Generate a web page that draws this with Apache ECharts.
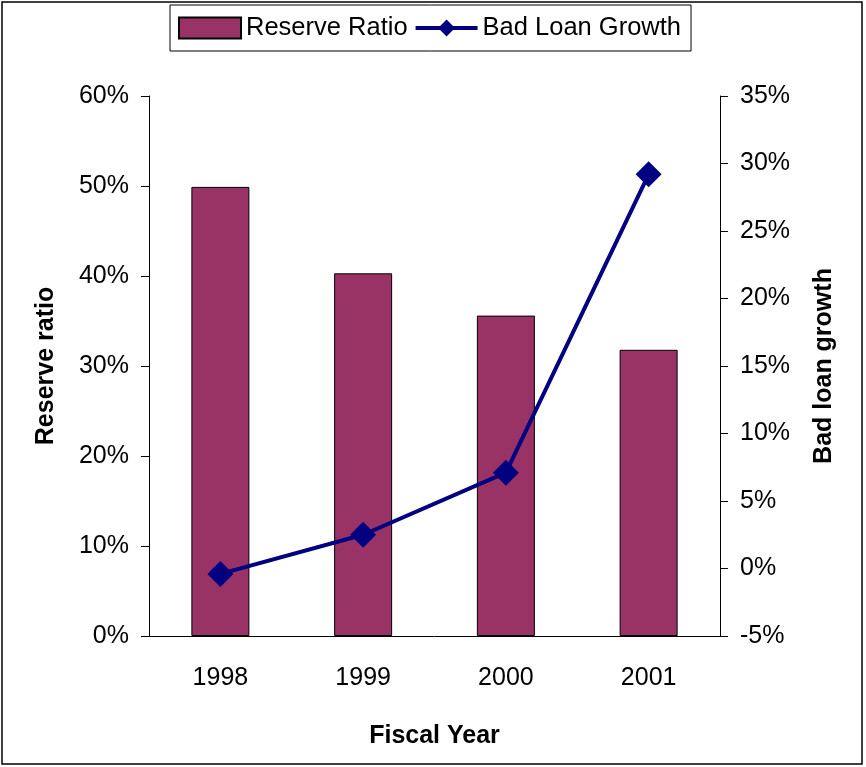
<!DOCTYPE html>
<html>
<head>
<meta charset="utf-8">
<script src="https://cdn.jsdelivr.net/npm/echarts@6/dist/echarts.min.js"></script>
<style>
  html, body { margin: 0; padding: 0; background: #fff; }
  #main { width: 866px; height: 767px; }
</style>
</head>
<body>
<div id="main"></div>
<script>
var years = ['1998', '1999', '2000', '2001'];
var reserveRatio = [49.9, 40.3, 35.6, 31.8];
var badLoanGrowth = [-0.4, 2.5, 7.1, 29.2];

var font = 'Liberation Sans, Arial, sans-serif';
var myChart = echarts.init(document.getElementById('main'));

var option = {
    animation: false,
    backgroundColor: '#fff',
    textStyle: { fontFamily: font, color: '#000' },
    graphic: [{
        type: 'rect',
        shape: { x: 2, y: 2, width: 860, height: 762 },
        style: { fill: 'none', stroke: '#000', lineWidth: 1.5 },
        silent: true
    }],
    legend: {
        left: 170,
        top: 5,
        data: [
            { name: 'Reserve Ratio', icon: 'rect' },
            { name: 'Bad Loan Growth', lineStyle: { width: 4 }, itemStyle: { color: '#000080' } }
        ],
        borderColor: '#000',
        borderWidth: 1,
        backgroundColor: '#fff',
        padding: [10, 10, 10, 8],
        itemGap: 6,
        itemWidth: 62,
        itemHeight: 21,
        textStyle: { fontSize: 25.5, fontFamily: font, color: '#000' }
    },
    grid: {
        left: 149,
        right: 146,
        top: 96,
        bottom: 131
    },
    xAxis: [{
        type: 'category',
        data: years,
        name: 'Fiscal Year',
        nameLocation: 'middle',
        nameGap: 88,
        nameTextStyle: { fontSize: 25, fontWeight: 'bold', fontFamily: font, color: '#000' },
        axisLine: { lineStyle: { color: '#000', width: 1 } },
        axisTick: { length: 8, lineStyle: { color: '#000' } },
        axisLabel: { fontSize: 25, margin: 30, color: '#000', fontFamily: font }
    }],
    yAxis: [{
        type: 'value',
        min: 0,
        max: 60,
        interval: 10,
        name: 'Reserve ratio',
        nameLocation: 'middle',
        nameRotate: 90,
        nameGap: 90,
        nameTextStyle: { fontSize: 25, fontWeight: 'bold', fontFamily: font, color: '#000' },
        axisLine: { show: true, lineStyle: { color: '#000', width: 1 } },
        axisTick: { show: true, length: 8, lineStyle: { color: '#000' } },
        axisLabel: { formatter: '{value}%', fontSize: 25, margin: 20, color: '#000', fontFamily: font },
        splitLine: { show: false }
    }, {
        type: 'value',
        position: 'right',
        min: -5,
        max: 35,
        interval: 5,
        name: 'Bad loan growth',
        nameLocation: 'middle',
        nameRotate: 90,
        nameGap: 92,
        nameTextStyle: { fontSize: 25, fontWeight: 'bold', fontFamily: font, color: '#000' },
        axisLine: { show: true, lineStyle: { color: '#000', width: 1 } },
        axisTick: { show: true, length: 8, lineStyle: { color: '#000' } },
        axisLabel: { formatter: '{value}%', fontSize: 25, margin: 20, color: '#000', fontFamily: font },
        splitLine: { show: false }
    }],
    series: [{
        name: 'Reserve Ratio',
        type: 'bar',
        yAxisIndex: 0,
        data: reserveRatio,
        barWidth: 58,
        itemStyle: { color: '#993366', borderColor: '#000', borderWidth: 1 }
    }, {
        name: 'Bad Loan Growth',
        type: 'line',
        yAxisIndex: 1,
        data: badLoanGrowth,
        symbol: 'diamond',
        symbolSize: 26,
        lineStyle: { color: '#000080', width: 4 },
        itemStyle: { color: '#000080' }
    }]
};

myChart.setOption(option);
</script>
</body>
</html>
